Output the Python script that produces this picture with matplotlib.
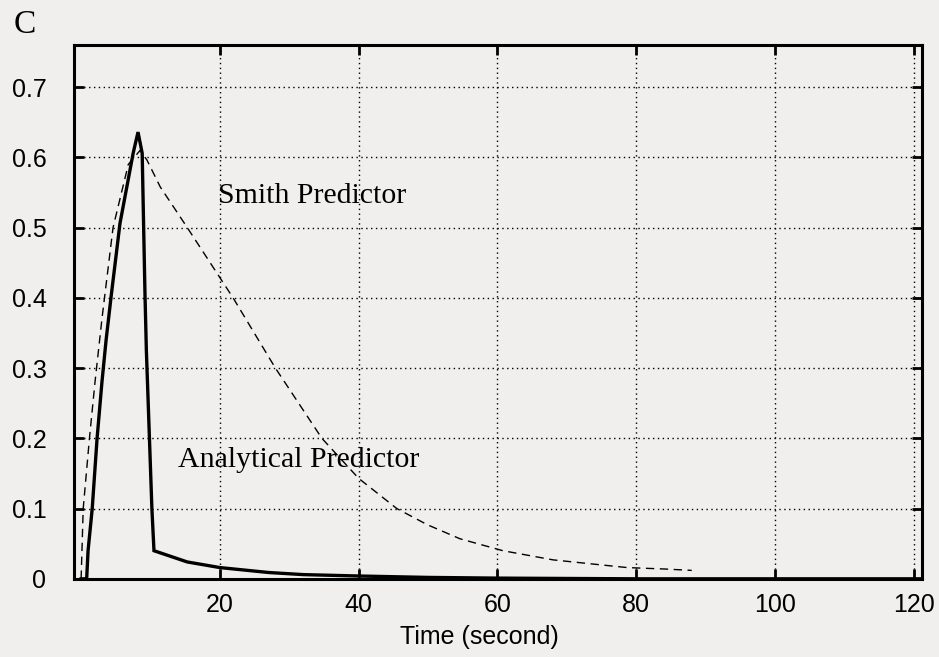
import matplotlib
matplotlib.use("Agg")
import matplotlib.pyplot as plt

# Analytical predictor (solid)
t_analytical = [0, 0.8, 1.0, 1.6, 2.3, 3.0, 3.6, 4.3, 5.6, 7.5, 8.2, 8.8, 9.2, 9.4, 10.2, 10.5,
                12.0, 15.3, 20, 27, 32, 40, 50, 60, 80, 100, 121]
y_analytical = [0, 0, 0.04, 0.1, 0.2, 0.28, 0.34, 0.4, 0.506, 0.606, 0.636, 0.606, 0.407, 0.326,
                0.1, 0.04, 0.035, 0.024, 0.016, 0.009, 0.006, 0.004, 0.002, 0.001, 0, 0, 0]

# Smith predictor (dashed)
t_smith = [0, 0.3, 1.2, 2.0, 3.0, 4.6, 6.8, 8.5, 9.5, 11.4, 15.3, 21.9, 28, 34.7, 40,
           45.5, 49.9, 54.6, 60.8, 68, 73.8, 78.7, 84, 88]
y_smith = [0, 0.1, 0.2, 0.28, 0.37, 0.5, 0.59, 0.61, 0.596, 0.558, 0.5, 0.4,
           0.3, 0.2, 0.143, 0.1, 0.077, 0.057, 0.04, 0.027, 0.021, 0.016, 0.014, 0.012]

x_ticks = [20, 40, 60, 80, 100, 120]
y_ticks = [0, 0.1, 0.2, 0.3, 0.4, 0.5, 0.6, 0.7]
y_labels = ["0", "0.1", "0.2", "0.3", "0.4", "0.5", "0.6", "0.7"]

paper = "#f0efed"
fig = plt.figure(figsize=(9.39, 6.57), dpi=100, facecolor=paper)
ax = fig.add_axes([0.079, 0.119, 0.903, 0.8125])
ax.set_facecolor(paper)

ax.plot(t_analytical, y_analytical, color="black", linewidth=2.4, solid_joinstyle="miter")
ax.plot(t_smith, y_smith, color="black", linewidth=1.0, dashes=(6, 4))

ax.set_xlim(-1, 121.2)
ax.set_ylim(0, 0.76)
ax.set_xticks(x_ticks)
ax.set_yticks(y_ticks)
ax.set_yticklabels(y_labels)

ax.grid(True, color="black", linestyle=(0, (1, 2.5)), linewidth=1.0)
for s in ax.spines.values():
    s.set_linewidth(2.2)

ax.tick_params(direction="in", length=7, width=2, top=True, right=True,
               labelsize=18, colors="black")
ax.tick_params(axis="y", pad=20)
ax.tick_params(axis="x", pad=10)
for lab in ax.get_xticklabels() + ax.get_yticklabels():
    lab.set_family("Liberation Sans")

ax.set_xlabel("Time (second)", fontsize=18, family="Liberation Sans")
ax.xaxis.set_label_coords(0.478, -0.087)

ax.text(19.7, 0.535, "Smith Predictor", family="Liberation Serif", fontsize=21.5,
        ha="left", va="baseline")
ax.text(14.0, 0.159, "Analytical Predictor", family="Liberation Serif", fontsize=21.5,
        ha="left", va="baseline")

fig.text(25 / 939, 1 - 25 / 657, "C", family="Liberation Serif", fontsize=24,
         ha="center", va="center")

fig.savefig("out.png", dpi=100, facecolor=paper)
